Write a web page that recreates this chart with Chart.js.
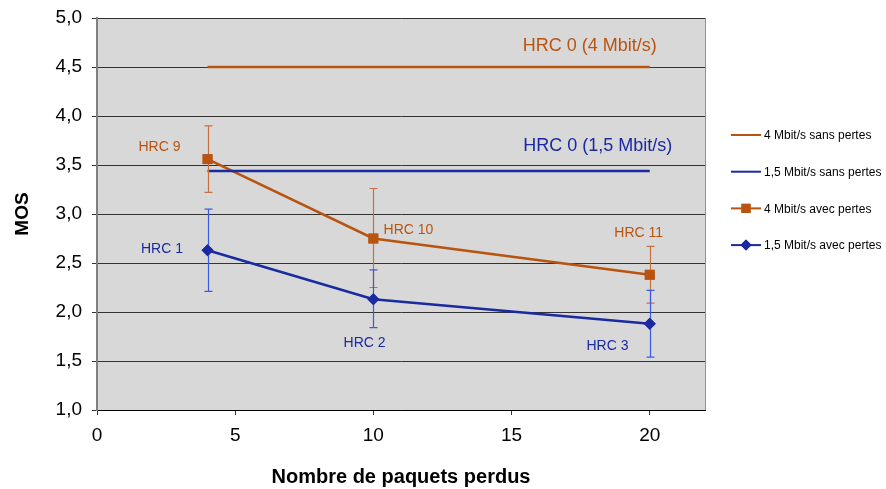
<!DOCTYPE html>
<html>
<head>
<meta charset="utf-8">
<script src="https://cdn.jsdelivr.net/npm/chart.js@4.4.0/dist/chart.umd.min.js"></script>
<style>
  html, body { margin: 0; padding: 0; background: #fff; }
  #wrap { width: 886px; height: 489px; position: relative; }
</style>
</head>
<body>
<div id="wrap"><canvas id="myChart"></canvas></div>
<script>
const ORANGE = 'rgb(184, 84, 16)';
const BLUE = 'rgb(26, 42, 160)';
const ORANGE_ERR = 'rgb(196, 112, 64)';
const BLUE_ERR = 'rgb(60, 90, 225)';

// nombre de paquets perdus
const lossPoints = [4, 10, 20];
const refRange = [4, 20];

// MOS
const mos4Lossless = [4.5, 4.5];
const mos15Lossless = [3.44, 3.44];
const mos4Loss = [3.56, 2.75, 2.38];
const mos15Loss = [2.63, 2.13, 1.88];

// error bars [low, high]
const err4Loss = [[3.22, 3.90], [2.25, 3.26], [2.09, 2.67]];
const err15Loss = [[2.21, 3.05], [1.84, 2.43], [1.54, 2.22]];

const xTicks = [0, 5, 10, 15, 20];
const yTicks = [1, 1.5, 2, 2.5, 3, 3.5, 4, 4.5, 5];

const seriesNames = ['4 Mbit/s sans pertes', '1,5 Mbit/s sans pertes', '4 Mbit/s avec pertes', '1,5 Mbit/s avec pertes'];

// text labels, in data coordinates
const labels = [
    {text: 'HRC 0 (4 Mbit/s)', x: 17.83, y: 4.71, color: ORANGE, size: 18},
    {text: 'HRC 0 (1,5 Mbit/s)', x: 18.12, y: 3.69, color: BLUE, size: 18},
    {text: 'HRC 9', x: 2.26, y: 3.68, color: ORANGE, size: 14},
    {text: 'HRC 10', x: 11.27, y: 2.84, color: ORANGE, size: 14},
    {text: 'HRC 11', x: 19.6, y: 2.80, color: ORANGE, size: 14},
    {text: 'HRC 1', x: 2.35, y: 2.64, color: BLUE, size: 14},
    {text: 'HRC 2', x: 9.68, y: 1.68, color: BLUE, size: 14},
    {text: 'HRC 3', x: 18.47, y: 1.65, color: BLUE, size: 14}
];

const toXY = (xs, ys) => xs.map((x, i) => ({x: x, y: ys[i]}));

const plotBg = {
    id: 'plotBg',
    beforeDraw(chart) {
        const {ctx, chartArea: a} = chart;
        ctx.save();
        ctx.fillStyle = '#d8d8d8';
        ctx.fillRect(a.left, a.top, a.right - a.left, a.bottom - a.top);
        ctx.restore();
    },
    afterDraw(chart) {
        const {ctx, chartArea: a} = chart;
        ctx.save();
        ctx.strokeStyle = '#909090';
        ctx.lineWidth = 1;
        ctx.beginPath();
        ctx.moveTo(a.right + 0.5, a.top);
        ctx.lineTo(a.right + 0.5, a.bottom);
        ctx.stroke();
        ctx.restore();
    }
};

const errorBars = {
    id: 'errorBars',
    afterDatasetsDraw(chart) {
        const {ctx, scales: {x, y}} = chart;
        const draw = (errs, color) => {
            ctx.strokeStyle = color;
            ctx.lineWidth = 1.2;
            errs.forEach((e, i) => {
                const px = Math.round(x.getPixelForValue(lossPoints[i])) + 0.5;
                const lo = y.getPixelForValue(e[0]);
                const hi = y.getPixelForValue(e[1]);
                ctx.beginPath();
                ctx.moveTo(px, lo); ctx.lineTo(px, hi);
                ctx.moveTo(px - 4, lo); ctx.lineTo(px + 4, lo);
                ctx.moveTo(px - 4, hi); ctx.lineTo(px + 4, hi);
                ctx.stroke();
            });
        };
        ctx.save();
        draw(err4Loss, ORANGE_ERR);
        draw(err15Loss, BLUE_ERR);
        ctx.restore();
        // redraw markers above bars
        [2, 3].forEach(i => chart.getDatasetMeta(i).data.forEach(p => p.draw(ctx, chart.chartArea)));
    }
};

const textLabels = {
    id: 'textLabels',
    afterDraw(chart) {
        const {ctx, scales: {x, y}} = chart;
        ctx.save();
        ctx.textAlign = 'center';
        ctx.textBaseline = 'middle';
        labels.forEach(l => {
            ctx.font = l.size + 'px "Liberation Sans", Arial, sans-serif';
            ctx.fillStyle = l.color;
            ctx.fillText(l.text, x.getPixelForValue(l.x), y.getPixelForValue(l.y));
        });
        ctx.restore();
    }
};

const sideLegend = {
    id: 'sideLegend',
    afterDraw(chart) {
        const {ctx} = chart;
        const styles = [
            {color: ORANGE, marker: null},
            {color: BLUE, marker: null},
            {color: ORANGE, marker: 'rect'},
            {color: BLUE, marker: 'rectRot'}
        ];
        ctx.save();
        ctx.font = '12px "Liberation Sans", Arial, sans-serif';
        ctx.textBaseline = 'middle';
        ctx.textAlign = 'left';
        seriesNames.forEach((name, i) => {
            const yy = 135 + i * 36.7;
            const st = styles[i];
            ctx.strokeStyle = st.color;
            ctx.lineWidth = 2;
            ctx.beginPath();
            ctx.moveTo(731, yy); ctx.lineTo(761, yy);
            ctx.stroke();
            if (st.marker) {
                ctx.fillStyle = st.color;
                Chart.helpers.drawPoint(ctx, {pointStyle: st.marker, radius: st.marker === 'rect' ? 6.5 : 5.5, borderWidth: 0}, 746, yy);
                ctx.fill();
            }
            ctx.fillStyle = '#000';
            ctx.fillText(name, 764, yy + 1);
        });
        ctx.restore();
    }
};

const tickFont = {family: '"Liberation Sans", Arial, sans-serif', size: 19};

new Chart(document.getElementById('myChart'), {
    type: 'line',
    plugins: [plotBg, errorBars, textLabels, sideLegend],
    data: {
        datasets: [
            {
                label: seriesNames[0],
                data: toXY(refRange, mos4Lossless),
                borderColor: ORANGE,
                borderWidth: 2.5,
                pointRadius: 0
            },
            {
                label: seriesNames[1],
                data: toXY(refRange, mos15Lossless),
                borderColor: BLUE,
                borderWidth: 2.5,
                pointRadius: 0
            },
            {
                label: seriesNames[2],
                data: toXY(lossPoints, mos4Loss),
                borderColor: ORANGE,
                backgroundColor: ORANGE,
                borderWidth: 2.5,
                pointStyle: 'rect',
                pointRadius: 7,
                pointBorderWidth: 0
            },
            {
                label: seriesNames[3],
                data: toXY(lossPoints, mos15Loss),
                borderColor: BLUE,
                backgroundColor: BLUE,
                borderWidth: 2.5,
                pointStyle: 'rectRot',
                pointRadius: 6,
                pointBorderWidth: 0
            }
        ]
    },
    options: {
        responsive: true,
        maintainAspectRatio: false,
        animation: false,
        layout: {padding: {left: 0, top: 18, right: 181, bottom: 0}},
        plugins: {
            legend: {display: false},
            tooltip: {enabled: false}
        },
        scales: {
            x: {
                type: 'linear',
                min: 0,
                max: 22,
                afterBuildTicks: s => { s.ticks = xTicks.map(v => ({value: v})); },
                afterFit: s => { s.height = 79; s.paddingLeft = 0; s.paddingRight = 0; },
                ticks: {color: '#000', font: tickFont, padding: 9, maxRotation: 0},
                grid: {display: true, drawOnChartArea: false, color: '#333', tickLength: 5},
                border: {color: '#000', width: 1},
                title: {
                    display: true,
                    text: 'Nombre de paquets perdus',
                    color: '#000',
                    font: {family: '"Liberation Sans", Arial, sans-serif', size: 20, weight: 'bold'},
                    padding: {top: 1, bottom: 0}
                }
            },
            y: {
                min: 1,
                max: 5,
                afterBuildTicks: s => { s.ticks = yTicks.map(v => ({value: v})); },
                afterFit: s => { s.width = 97; s.paddingTop = 0; s.paddingBottom = 0; },
                ticks: {
                    color: '#000',
                    font: tickFont,
                    padding: 10,
                    callback: v => v.toFixed(1).replace('.', ',')
                },
                grid: {color: '#333', lineWidth: 1, tickLength: 5},
                border: {color: '#808080', width: 2},
                title: {
                    display: true,
                    text: 'MOS',
                    color: '#000',
                    font: {family: '"Liberation Sans", Arial, sans-serif', size: 19, weight: 'bold'},
                    padding: {top: 11, bottom: 0}
                }
            }
        }
    }
});
</script>
</body>
</html>
